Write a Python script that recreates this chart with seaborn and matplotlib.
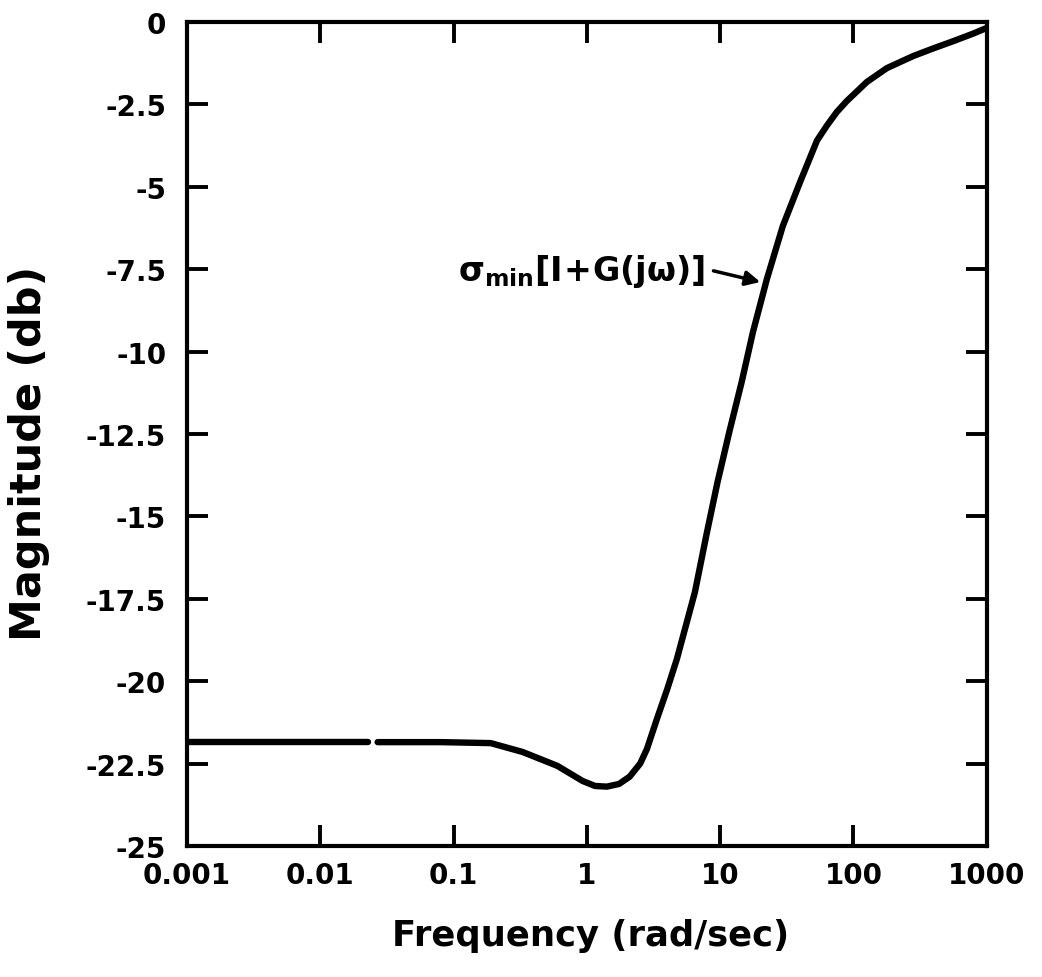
import matplotlib
matplotlib.use("Agg")
import matplotlib.pyplot as plt
import numpy as np
import pandas as pd
import seaborn as sns
from matplotlib.ticker import FixedLocator, NullLocator

# curve (rad/sec, dB); the trace has a small break near 0.025
freq_a = [0.001, 0.0229]
mag_a = [-21.85, -21.85]

freq_b = [0.0269, 0.08, 0.19, 0.33, 0.6, 0.93, 1.15, 1.41, 1.74, 2.09, 2.51,
          2.82, 3.35, 4.0, 4.73, 6.46, 7.94, 9.55, 11.7, 14.5, 17.6, 22.4,
          29.5, 39.8, 53.2, 63.0, 75.0, 89.0, 126.0, 178.0, 282.0, 398.0,
          562.0, 794.0, 1000.0]
mag_b = [-21.85, -21.85, -21.88, -22.15, -22.57, -23.03, -23.18, -23.2, -23.12,
         -22.9, -22.5, -22.06, -21.15, -20.25, -19.33, -17.3, -15.5, -13.96,
         -12.44, -10.92, -9.41, -7.8, -6.19, -4.85, -3.6, -3.15, -2.73, -2.4,
         -1.82, -1.4, -1.03, -0.8, -0.58, -0.35, -0.18]

x_ticks = [0.001, 0.01, 0.1, 1, 10, 100, 1000]
x_labels = ["0.001", "0.01", "0.1", "1", "10", "100", "1000"]
y_ticks = [0, -2.5, -5, -7.5, -10, -12.5, -15, -17.5, -20, -22.5, -25]
y_labels = ["0", "-2.5", "-5", "-7.5", "-10", "-12.5", "-15", "-17.5",
            "-20", "-22.5", "-25"]

sns.set_style("ticks")
plt.rcParams["font.family"] = ["DejaVu Sans"]
plt.rcParams["font.weight"] = "bold"
plt.rcParams["text.color"] = "black"
plt.rcParams["axes.labelcolor"] = "black"
plt.rcParams["xtick.color"] = "black"
plt.rcParams["ytick.color"] = "black"
plt.rcParams["axes.unicode_minus"] = False
plt.rcParams["mathtext.fontset"] = "dejavusans"
plt.rcParams["mathtext.default"] = "bf"

df = pd.concat([
    pd.DataFrame({"freq": freq_a, "mag": mag_a, "seg": 0}),
    pd.DataFrame({"freq": freq_b, "mag": mag_b, "seg": 1}),
])

fig = plt.figure(figsize=(10.42, 9.78), dpi=100)
ax = fig.add_axes([0.1795, 0.134, 0.7675, 0.8425])

sns.lineplot(data=df, x="freq", y="mag", units="seg", estimator=None,
             color="black", linewidth=4.6, ax=ax, legend=False)

ax.set_xscale("log")
ax.set_xlim(0.001, 1000)
ax.set_ylim(-25, 0)
ax.xaxis.set_major_locator(FixedLocator(x_ticks))
ax.xaxis.set_minor_locator(NullLocator())
ax.set_xticklabels(x_labels)
ax.yaxis.set_major_locator(FixedLocator(y_ticks))
ax.set_yticklabels(y_labels)

for s in ax.spines.values():
    s.set_visible(True)
    s.set_linewidth(3)
    s.set_color("black")
ax.tick_params(axis="both", which="major", direction="in", length=15, width=2.8,
               top=True, right=True, labelsize=20, color="black",
               labelcolor="black")
ax.tick_params(axis="y", pad=15)
ax.tick_params(axis="x", pad=11)

ax.set_xlabel("Frequency (rad/sec)", fontsize=25.5, fontweight="bold")
ax.set_ylabel("Magnitude (db)", fontsize=31, fontweight="bold")
ax.xaxis.set_label_coords(0.504, -0.088)
ax.yaxis.set_label_coords(-0.171, 0.478)

# label and arrow to the curve
ax.text(0.108, -7.55, r"$\sigma_{min}\left[I\!+\!G(j\omega)\right]$",
        fontsize=24, ha="left", va="center")
ax.annotate("", xy=(20.0, -7.89), xytext=(8.9, -7.55),
            arrowprops=dict(arrowstyle="-|>", color="black", lw=2.5,
                            mutation_scale=22, shrinkA=0, shrinkB=0))

fig.savefig("out.png", dpi=100)
